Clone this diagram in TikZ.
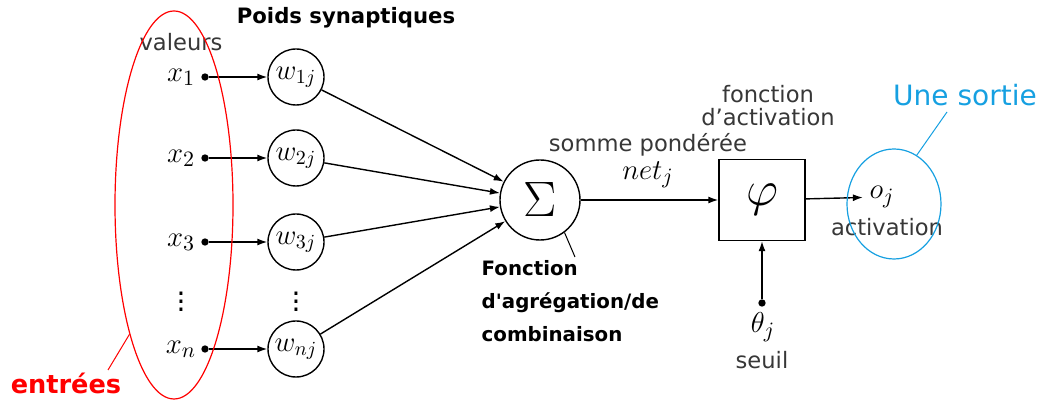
\documentclass[tikz,border=0pt]{standalone}
\usepackage{fontspec}
\setmainfont{DejaVu Sans}
\usetikzlibrary{arrows.meta,positioning,shapes.geometric}
\definecolor{sortie}{RGB}{22,160,225}
\definecolor{gristxt}{RGB}{55,55,55}

\begin{document}
\begin{tikzpicture}[x=0.5pt,y=-0.5pt,line width=0.7pt,
every node/.style={inner sep=0pt},
poids/.style={circle,draw,minimum size=28pt,font=\fontsize{14.5}{14.5}\selectfont},
pnt/.style={circle,fill,inner sep=1.3pt},
lbl/.style={text=gristxt,font=\fontsize{11.3}{11.5}\selectfont},
gras/.style={font=\fontsize{9.9}{16.4}\selectfont\bfseries},
mth/.style={font=\fontsize{15}{15}\selectfont},
arr/.style={-{Latex[length=5pt,width=3.5pt]}}]
\useasboundingbox (0,0) rectangle (1046,400);
\node[mth] (X1) at (181,77) {$x_1$};
\node[mth] (X2) at (181,158) {$x_2$};
\node[mth] (X3) at (181,242) {$x_3$};
\node[mth] (Xn) at (181,349) {$x_n$};
\node[font=\fontsize{14}{14}\selectfont] (V1) at (181,296) {$\vdots$};
\node[pnt] (P1) at (205,77) {};
\node[pnt] (P2) at (205,158) {};
\node[pnt] (P3) at (205,242) {};
\node[pnt] (Pn) at (205,349) {};
\node[poids] (W1) at (296,77) {$w_{1j}$};
\node[poids] (W2) at (296,158) {$w_{2j}$};
\node[poids] (W3) at (296,242) {$w_{3j}$};
\node[poids] (Wn) at (296,349) {$w_{nj}$};
\node[font=\fontsize{14}{14}\selectfont] (V2) at (296,296) {$\vdots$};
\node[circle,draw,minimum size=40pt,font=\fontsize{24}{24}\selectfont] (S) at (540,200) {$\Sigma$};
\node[draw,minimum width=43pt,minimum height=40.5pt,font=\fontsize{26}{26}\selectfont] (F) at (762,200) {$\varphi$};
\node[mth] (O) at (882,197) {$o_j$};
\node[pnt] (P0) at (762,303) {};
\node[mth] (T) at (763,327) {$\theta_j$};
\node[mth] (N) at (648,175) {$net_j$};
\draw[arr] (P1) -- (W1);
\draw[arr] (P2) -- (W2);
\draw[arr] (P3) -- (W3);
\draw[arr] (Pn) -- (Wn);
\draw[arr] (W1) -- (S);
\draw[arr] (W2) -- (S);
\draw[arr] (W3) -- (S);
\draw[arr] (Wn) -- (S);
\draw[arr] (S) -- (F);
\draw[arr,shorten >=3pt] (F) -- (O);
\draw[arr] (P0) -- (F);
\node[lbl] (VAL) at (181,42) {valeurs};
\node[font=\fontsize{10.6}{12}\selectfont\bfseries] (PS) at (346,18) {Poids synaptiques};
\node[lbl] (SP) at (648,145) {somme pondérée};
\node[lbl,align=center] (FA) at (768,106) {fonction\\d’activation};
\node[lbl] (A) at (887,227) {activation};
\node[lbl] (SE) at (762,360) {seuil};
\node[gras,align=left,anchor=north west] (G) at (481,260) {Fonction\\d\textquotesingle agrégation/de\\combinaison};
\coordinate (G1) at (575,257);
\draw[line width=0.5pt] (S.-53) -- (G1);
\node[ellipse,draw=red,minimum width=59pt,minimum height=194pt,line width=0.6pt] (E) at (174,205) {};
\node[text=red,font=\fontsize{12.8}{14}\selectfont\bfseries] (EN) at (66,383) {entrées};
\coordinate (E1) at (108,370);
\draw[red,line width=0.5pt] (E.251) -- (E1);
\node[ellipse,draw=sortie,minimum width=47pt,minimum height=55pt,line width=0.6pt] (B) at (894,204) {};
\node[text=sortie,font=\fontsize{14}{14}\selectfont] (US) at (965,95) {Une sortie};
\coordinate (B1) at (947,112);
\draw[sortie,line width=0.5pt] (B.65) -- (B1);
\end{tikzpicture}
\end{document}
